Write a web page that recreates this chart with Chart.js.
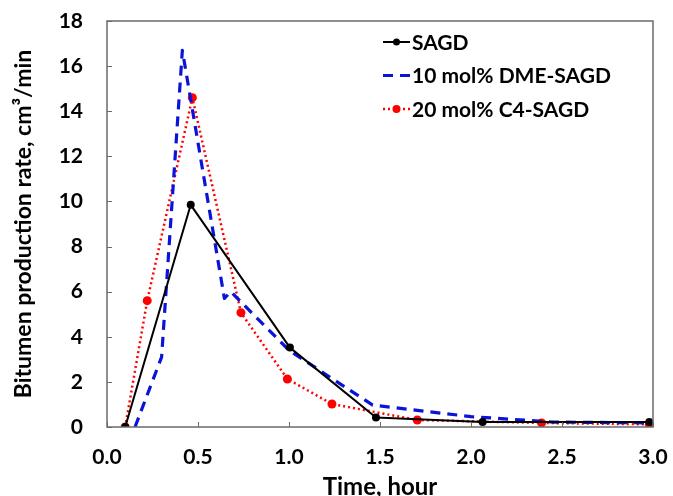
<!DOCTYPE html>
<html>
<head>
<meta charset="utf-8">
<script src="https://cdn.jsdelivr.net/npm/chart.js@4.4.1/dist/chart.umd.min.js"></script>
<style>
  html, body { margin: 0; padding: 0; background: #fff; }
  #wrap { width: 673px; height: 496px; position: relative; }
</style>
</head>
<body>
<div id="wrap"><canvas id="c"></canvas></div>
<script>
// Bitumen production rate vs. time for three SAGD variants
const seriesNames = ['SAGD', '10 mol% DME-SAGD', '20 mol% C4-SAGD'];

const sagdTime = [0.10, 0.46, 1.005, 1.478, 2.064, 2.98];
const sagdRate = [0.0, 9.85, 3.52, 0.42, 0.22, 0.22];

const dmeTime = [0.154, 0.30, 0.414, 0.645, 0.68, 1.0, 1.46, 2.0, 2.45, 3.0];
const dmeRate = [0.0, 3.1, 16.7, 5.7, 6.0, 3.4, 0.97, 0.46, 0.22, 0.18];

const c4Time = [0.10, 0.221, 0.469, 0.736, 0.991, 1.236, 1.705, 2.388, 2.98];
const c4Rate = [0.0, 5.6, 14.6, 5.07, 2.13, 1.02, 0.31, 0.18, 0.12];

const xTicks = [0.0, 0.5, 1.0, 1.5, 2.0, 2.5, 3.0];
const yTicks = [0, 2, 4, 6, 8, 10, 12, 14, 16, 18];

const xTitle = 'Time, hour';
const yTitle = 'Bitumen production rate, cm\u00B3/min';

const FONT = 'Lato, "Open Sans", sans-serif';

function pairs(xs, ys) { return xs.map((x, i) => ({ x: x, y: ys[i] })); }

// Plot frame with inward tick marks
const framePlugin = {
  id: 'frame',
  afterDatasetsDraw(chart) {
    const { ctx, chartArea: a, scales } = chart;
    ctx.save();
    ctx.strokeStyle = '#6b6b6b';
    ctx.lineWidth = 1.5;
    ctx.strokeRect(a.left, a.top, a.right - a.left, a.bottom - a.top);
    ctx.lineWidth = 1;
    ctx.beginPath();
    xTicks.forEach(v => {
      const px = Math.round(scales.x.getPixelForValue(v)) + 0.5;
      ctx.moveTo(px, a.bottom);
      ctx.lineTo(px, a.bottom - 5);
    });
    yTicks.forEach(v => {
      const py = Math.round(scales.y.getPixelForValue(v)) + 0.5;
      ctx.moveTo(a.left, py);
      ctx.lineTo(a.left + 5, py);
    });
    ctx.stroke();
    ctx.restore();
  }
};

// Legend drawn inside the plot area, top right
const legendPlugin = {
  id: 'insideLegend',
  afterDraw(chart) {
    const { ctx, chartArea: a } = chart;
    const x0 = a.left + 276, y0 = a.top + 21, gap = 33.5, len = 27;
    ctx.save();
    chart.data.datasets.forEach((ds, i) => {
      const y = y0 + i * gap;
      ctx.strokeStyle = ds.borderColor;
      ctx.lineWidth = ds.borderWidth;
      ctx.setLineDash(ds.borderDash || []);
      ctx.beginPath();
      ctx.moveTo(x0, y);
      ctx.lineTo(x0 + len, y);
      ctx.stroke();
      ctx.setLineDash([]);
      if (ds.pointRadius > 0) {
        ctx.fillStyle = ds.pointBackgroundColor;
        ctx.beginPath();
        ctx.arc(x0 + len / 2, y, ds.pointRadius - 0.5, 0, Math.PI * 2);
        ctx.fill();
      }
      ctx.fillStyle = '#000';
      ctx.font = 'bold 21px ' + FONT;
      ctx.textBaseline = 'middle';
      ctx.textAlign = 'left';
      ctx.fillText(ds.label, x0 + len + 2, y + 1);
    });
    ctx.restore();
  }
};

new Chart(document.getElementById('c'), {
  type: 'line',
  data: {
    datasets: [
      {
        label: seriesNames[0],
        data: pairs(sagdTime, sagdRate),
        borderColor: '#000000',
        backgroundColor: '#000000',
        pointBackgroundColor: '#000000',
        pointBorderWidth: 0,
        borderWidth: 2,
        pointRadius: 4
      },
      {
        label: seriesNames[1],
        data: pairs(dmeTime, dmeRate),
        borderColor: '#0a14d8',
        backgroundColor: '#0a14d8',
        borderWidth: 3.2,
        borderDash: [10, 7],
        pointRadius: 0
      },
      {
        label: seriesNames[2],
        data: pairs(c4Time, c4Rate),
        borderColor: '#ff0000',
        backgroundColor: '#ff0000',
        pointBackgroundColor: '#ff0000',
        pointBorderWidth: 0,
        borderWidth: 2.5,
        borderDash: [2, 3],
        pointRadius: 4.5
      }
    ]
  },
  options: {
    responsive: true,
    maintainAspectRatio: false,
    animation: false,
    events: [],
    layout: { padding: { top: 21, right: 20, left: 0, bottom: 0 } },
    plugins: { legend: { display: false }, tooltip: { enabled: false } },
    elements: { line: { tension: 0, borderJoinStyle: 'round' } },
    scales: {
      x: {
        type: 'linear',
        min: 0, max: 3,
        afterBuildTicks(s) { s.ticks = xTicks.map(v => ({ value: v })); },
        afterFit(s) { s.height = 69; s.paddingLeft = 0; s.paddingRight = 0; },
        grid: { display: false, drawTicks: false },
        border: { display: false },
        ticks: {
          padding: 18,
          color: '#000',
          font: { family: FONT, size: 21, weight: 'bold' },
          callback: v => v.toFixed(1)
        },
        title: {
          display: true, text: xTitle, color: '#000',
          font: { family: FONT, size: 24, weight: 'bold' },
          padding: { top: 0, bottom: -6 }
        }
      },
      y: {
        type: 'linear',
        min: 0, max: 18,
        afterBuildTicks(s) { s.ticks = yTicks.map(v => ({ value: v })); },
        afterFit(s) { s.width = 107; s.paddingTop = 0; s.paddingBottom = 0; },
        grid: { display: false, drawTicks: false },
        border: { display: false },
        ticks: {
          padding: 24,
          color: '#000',
          font: { family: FONT, size: 21, weight: 'bold' }
        },
        title: {
          display: true, text: yTitle, color: '#000',
          font: { family: FONT, size: 23, weight: 'bold' },
          padding: { top: 10, bottom: 0 }
        }
      }
    }
  },
  plugins: [framePlugin, legendPlugin]
});
</script>
</body>
</html>
